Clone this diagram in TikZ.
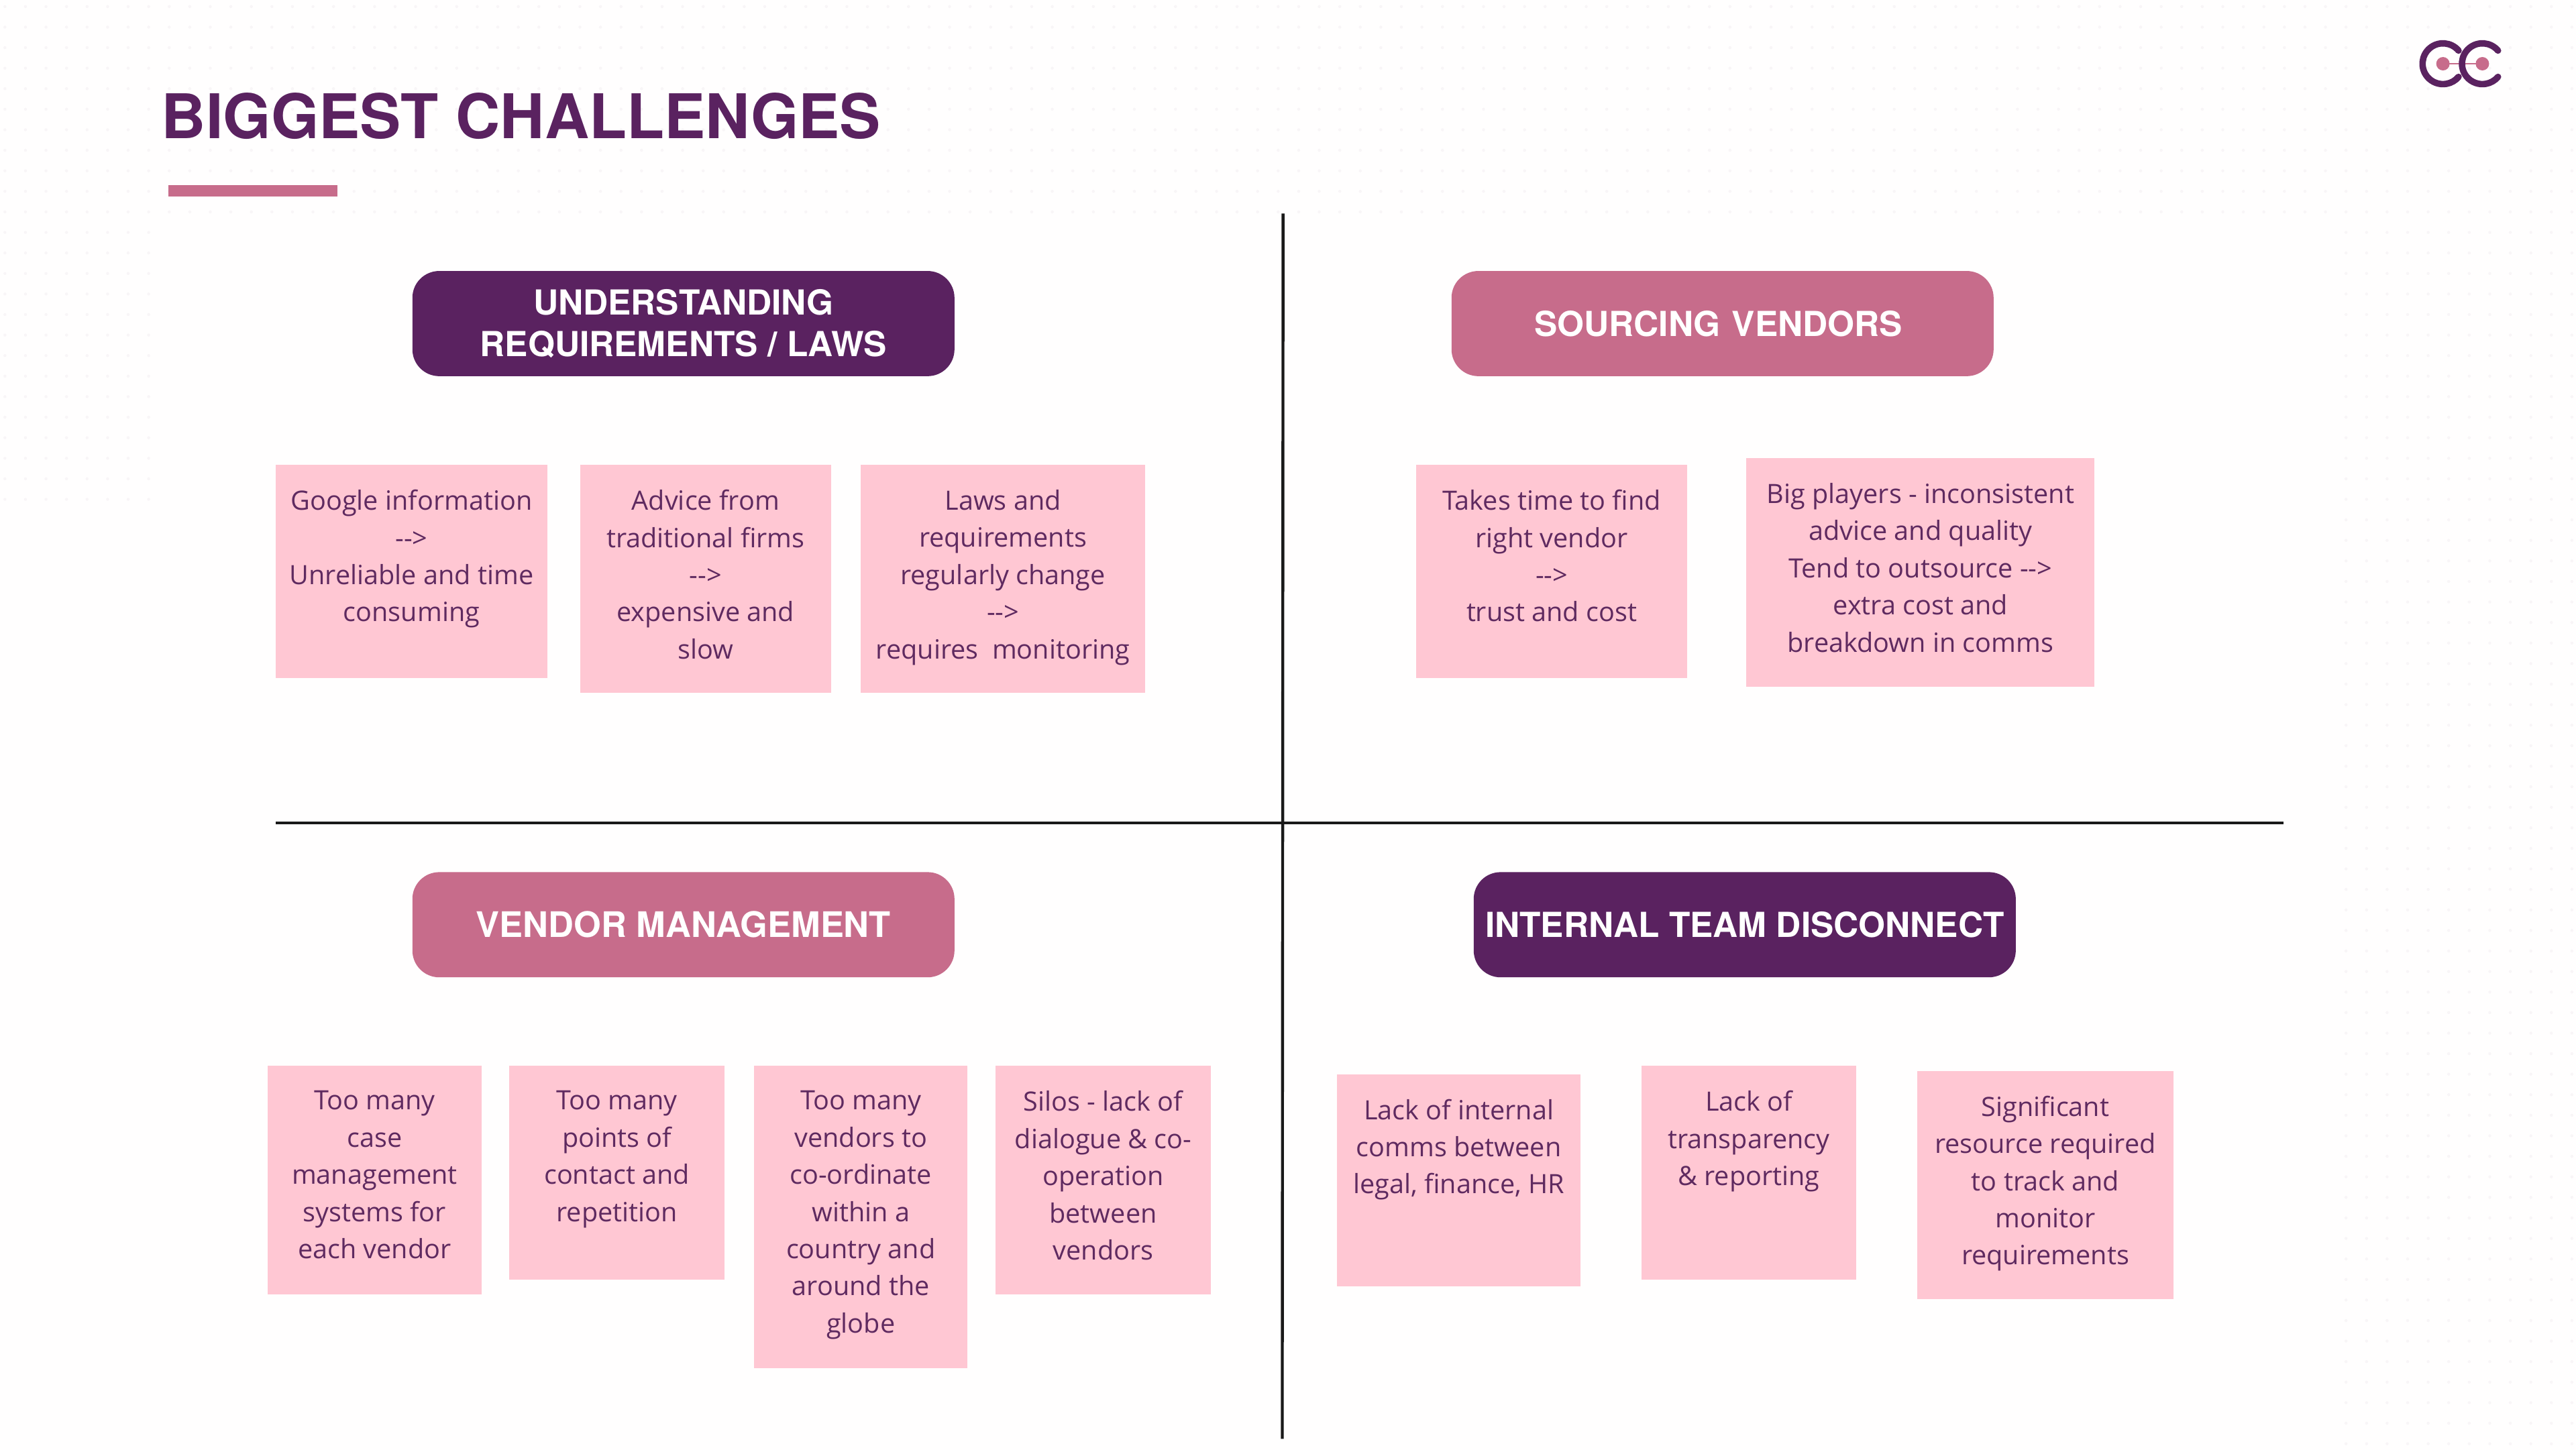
\documentclass[tikz,border=0pt]{standalone}
\usepackage{fontspec}
\setmainfont{Open Sans}
\newfontfamily\headfont{TeX Gyre Heros}
\usetikzlibrary{calc}
\definecolor{plum}{HTML}{5A2260}
\definecolor{rosehead}{HTML}{C76C8B}
\definecolor{notebg}{HTML}{FFC7D3}
\definecolor{notetx}{HTML}{5F2A60}
\definecolor{pagebg}{HTML}{FFFEFE}
\definecolor{dotc}{HTML}{F8F5F7}
\def\un{0.6122}
\newcommand{\arr}{-{}-{}>}
\tikzset{
  x=0.6122pt,y=-0.6122pt,
  notebox/.style={fill=notebg,draw=none,inner sep=0pt},
  notetext/.style={font=\fontsize{9.9}{13.85}\selectfont,text=notetx,align=center,inner sep=0pt,anchor=north},
  headbox/.style={rounded corners=10pt,inner sep=0pt,minimum width=202pt,minimum height=39.2pt,
     font=\headfont\bfseries\fontsize{12.85}{16}\selectfont,text=white,align=center},
  divider/.style={draw=black!90,line width=1.1pt},
  bgdot/.style={fill=dotc},
}
% name, x1,y1,x2,y2, text y, text
\newcommand{\mynote}[7]{%
  \pgfmathsetmacro{\bw}{(#4-#2)*\un}\pgfmathsetmacro{\bh}{(#5-#3)*\un}
  \node[notebox,minimum width=\bw pt,minimum height=\bh pt] (#1) at ({(#2+#4)/2},{(#3+#5)/2}) {};
  \node[notetext] (#1t) at ($(#1.north)+(0,#6)$) {#7};
}
\begin{document}
\begin{tikzpicture}
\useasboundingbox (0,0) rectangle (1568.0,882.8);
\fill[pagebg] (0,0) rectangle (1568.0,882.8);
% faint dot texture: top band, left band, right band
\foreach \i in {0,...,125}{\foreach \j in {0,...,10}{\fill[bgdot] (3+\i*12.5,4+\j*12.5) circle (0.55pt);}}
\foreach \i in {0,...,7}{\foreach \j in {11,...,24}{\fill[bgdot] (3+\i*12.5,4+\j*12.5) circle (0.55pt);}}
\foreach \i in {0,...,11}{\foreach \j in {11,...,70}{\fill[bgdot] (1428+\i*12.5,4+\j*12.5) circle (0.55pt);}}

\node[anchor=west,inner sep=0pt,font=\headfont\bfseries\fontsize{22.95}{28}\selectfont,text=plum] (title) at (98,70.5) {BIGGEST CHALLENGES};
\fill[rosehead] (102.5,112.5) rectangle (205.5,119.5);

% logo
\coordinate (lc) at (1487,38.8);
\coordinate (rc) at (1511,38.8);
\draw[rosehead,line width=0.6pt] (lc) -- (rc);
\fill[rosehead] (lc) circle (2.5pt) (rc) circle (2.5pt);
\draw[plum,line width=2.4pt,line cap=round] ($(lc)+(40:7.6pt)$) arc[start angle=40,end angle=320,radius=7.6pt];
\draw[plum,line width=2.4pt,line cap=round] ($(rc)+(40:7.6pt)$) arc[start angle=40,end angle=320,radius=7.6pt];

% dividers
\coordinate (vt) at (781,130);
\coordinate (vb) at (780.5,876);
\coordinate (hl) at (168,501);
\coordinate (hr) at (1390,501);
\draw[divider] (vt) -- (vb);
\draw[divider] (hl) -- (hr);

% headers
\node[headbox,fill=plum] (h1) at (416,197) {UNDERSTANDING\\[-0.4pt]REQUIREMENTS / LAWS};
\node[headbox,fill=rosehead,text width=202pt] (h2) at (1048.5,197) {\hspace*{-3pt}SOURCING VENDORS};
\node[headbox,fill=rosehead,font=\headfont\bfseries\fontsize{13.1}{16}\selectfont] (h3) at (416,563) {VENDOR MANAGEMENT};
\node[headbox,fill=plum] (h4) at (1062,563) {INTERNAL TEAM DISCONNECT};

% notes
\mynote{a}{168}{283}{333}{413}{15.2}{Google information\\\arr\\Unreliable and time\\consuming}
\mynote{b}{353}{283}{506}{422}{15.2}{Advice from\\traditional firms\\\arr\\expensive and\\slow}
\mynote{c}{524}{283}{697}{422}{15.2}{Laws and\\requirements\\regularly change\\\arr\\requires\ \ monitoring}
\mynote{d}{862}{283}{1027}{413}{15.2}{Takes time to find\\right vendor\\\arr\\trust and cost}
\mynote{e}{1063}{279}{1275}{418}{15.2}{Big players - inconsistent\\advice and quality\\Tend to outsource \arr\\extra cost and\\breakdown in comms}
\mynote{f}{163}{649}{293}{788}{15.2}{Too many\\case\\management\\systems for\\each vendor}
\mynote{g}{310}{649}{441}{779}{15.2}{Too many\\points of\\contact and\\repetition}
\mynote{i}{459}{649}{589}{833}{15.2}{Too many\\vendors to\\co-ordinate\\within a\\country and\\around the\\globe}
\mynote{j}{606}{649}{737}{788}{15.2}{Silos - lack of\\dialogue \& co-\\operation\\between\\vendors}
\mynote{k}{814}{654}{962}{783}{15.2}{Lack of internal\\comms between\\legal, finance, HR}
\mynote{l}{999}{649}{1130}{779}{15.2}{Lack of\\transparency\\\& reporting}
\mynote{m}{1167}{652}{1323}{791}{15.2}{Significant\\resource required\\to track and\\monitor\\requirements}
\end{tikzpicture}
\end{document}
